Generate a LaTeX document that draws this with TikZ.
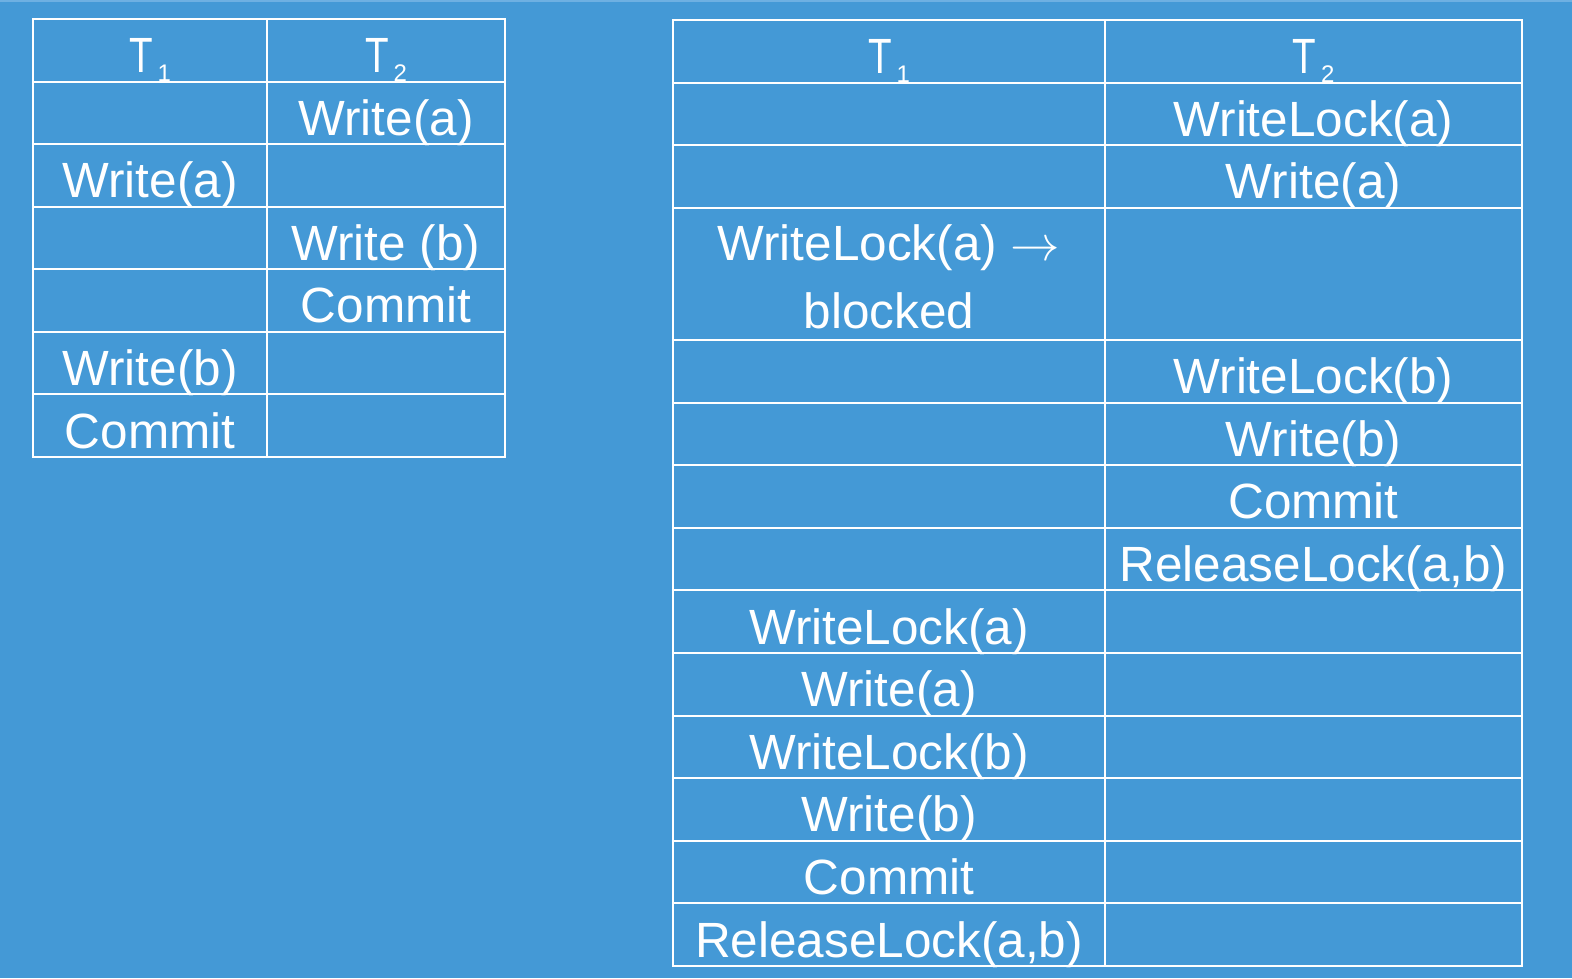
\documentclass[tikz,border=0pt]{standalone}
\usepackage{fontspec}
\setmainfont{Liberation Sans}
\definecolor{bg}{RGB}{68,153,214}
\definecolor{bgtop}{RGB}{110,176,226}
\newcommand{\hdr}[1]{\scalebox{0.78}[1]{T}\hspace{5pt}\raisebox{-9pt}{\fontsize{24}{24}\selectfont #1}}
\newcommand{\bigarrow}{{\fontsize{24.88}{30}\selectfont\scalebox{1.99}{$\rightarrow$}}}
\begin{document}
\begin{tikzpicture}[x=1pt,y=-1pt,
  grid/.style={draw=white,line width=2pt},
  cell/.style={anchor=base,text=white,inner sep=0pt,font=\fontsize{49.5}{60}\selectfont}]
\fill[bg] (0,0) rectangle (1572,978);
\useasboundingbox (0,0) rectangle (1572,978);
\fill[bgtop] (0,0) rectangle (1572,2);

% ---------- left table ----------
\draw[grid] (33,19) rectangle (505,457);
\draw[grid] (267,19) -- (267,457);
\foreach \y in {81.6,144.1,206.7,269.3,331.9,394.4}
  \draw[grid] (33,\y) -- (505,\y);

\node[cell] (lh1) at (150,72.6) {\hdr{1}};
\node[cell] (lh2) at (386,72.6) {\hdr{2}};
\node[cell] (l1) at (386,135.1) {Write(a)};
\node[cell] (l2) at (150,197.7) {Write(a)};
\node[cell] (l3) at (386,260.3) {Write (b)};
\node[cell] (l4) at (386,322.9) {Commit};
\node[cell] (l5) at (150,385.4) {Write(b)};
\node[cell] (l6) at (150,448) {Commit};

% ---------- right table ----------
\draw[grid] (673,20) rectangle (1522,966);
\draw[grid] (1105,20) -- (1105,966);
\foreach \y in {82.6,145.2,207.8,340,402.6,465.2,527.8,590.4,653,715.6,778.2,840.8,903.4}
  \draw[grid] (673,\y) -- (1522,\y);

\node[cell] (rh1) at (889,73.6) {\hdr{1}};
\node[cell] (rh2) at (1313.5,73.6) {\hdr{2}};
\node[cell] (r1) at (1313.5,136.2) {WriteLock(a)};
\node[cell] (r2) at (1313.5,198.8) {Write(a)};
\node[cell] (r3a) at (889,260) {WriteLock(a) \bigarrow};
\node[cell] (r3b) at (889,328) {blocked};
\node[cell] (r4) at (1313.5,393.6) {WriteLock(b)};
\node[cell] (r5) at (1313.5,456.2) {Write(b)};
\node[cell] (r6) at (1313.5,518.8) {Commit};
\node[cell] (r7) at (1313.5,581.4) {ReleaseLock(a,b)};
\node[cell] (r8) at (889,644) {WriteLock(a)};
\node[cell] (r9) at (889,706.6) {Write(a)};
\node[cell] (r10) at (889,769.2) {WriteLock(b)};
\node[cell] (r11) at (889,831.8) {Write(b)};
\node[cell] (r12) at (889,894.4) {Commit};
\node[cell] (r13) at (889,957) {ReleaseLock(a,b)};
\end{tikzpicture}
\end{document}
